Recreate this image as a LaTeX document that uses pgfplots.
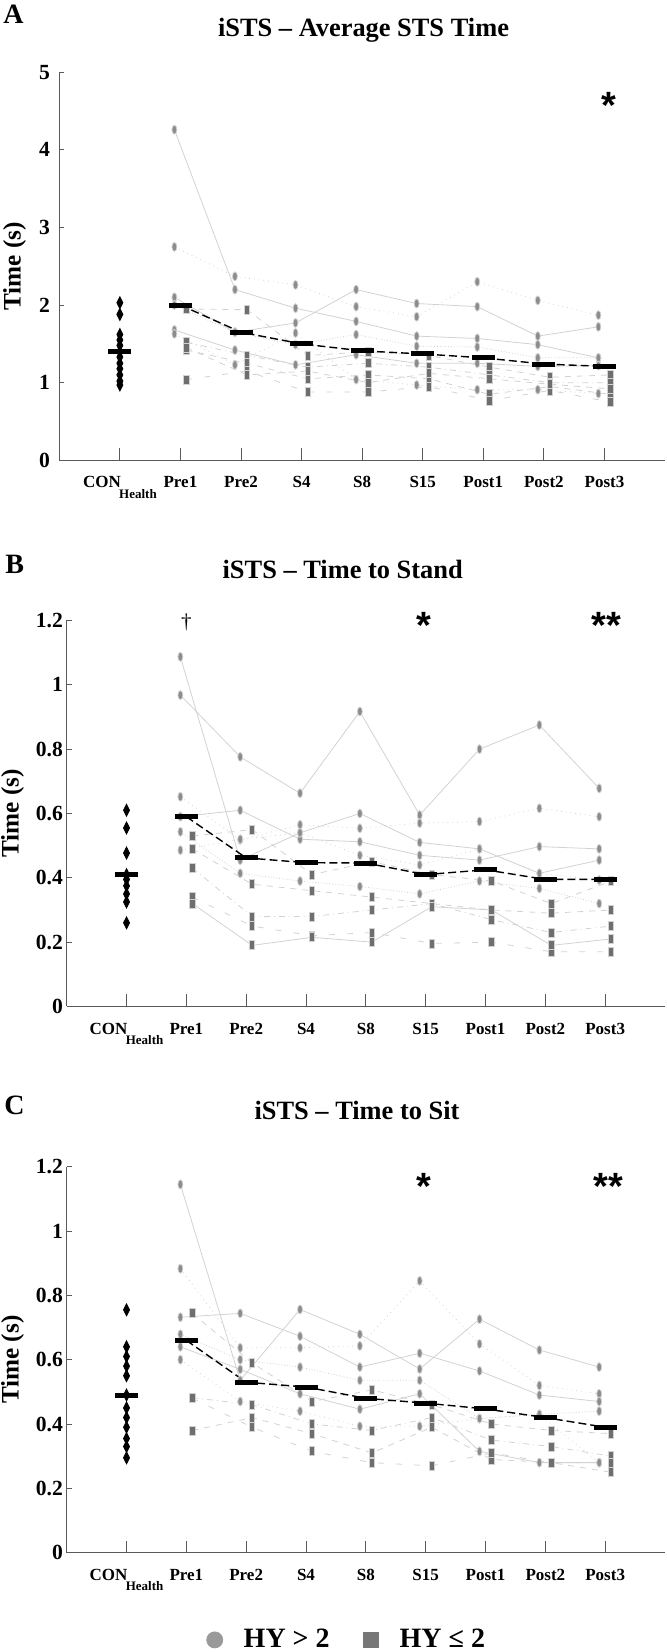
\documentclass[border=0pt]{standalone}
\usepackage{fontspec}
\setmainfont{Liberation Serif}
\setsansfont{Liberation Sans}
\usepackage{pgfplots}
\usepackage{pgfplotstable}
\pgfplotsset{compat=1.18}

\definecolor{lineG}{HTML}{D2D2D2}
\definecolor{circG}{HTML}{8C8C8C}
\definecolor{sqG}{HTML}{6E6E6E}
\definecolor{axG}{HTML}{5A5A5A}
\definecolor{legC}{HTML}{999999}
\definecolor{legS}{HTML}{777777}

% Panel A: average STS time (x: 1=Pre1 ... 8=Post3)
\pgfplotstableread{
x c1 c2 c3 c4 c5 c6 s1 s2 s3 s4 s5
1 4.26 2.75 2.10 2.00 1.68 1.63 1.95 1.52 1.42 1.04 1.45
2 2.20 2.37 1.65 1.65 1.42 1.23 1.94 1.35 1.25 1.15 1.10
3 1.96 2.26 1.77 1.49 1.23 1.64 1.35 1.20 1.05 0.88 1.15
4 1.79 1.98 2.20 1.62 1.36 1.04 1.40 1.25 1.10 0.88 1.00
5 1.60 1.85 2.02 1.47 1.25 0.97 1.35 1.20 1.05 0.95 1.12
6 1.57 2.30 1.98 1.46 1.25 0.91 1.20 1.10 0.85 0.77 1.05
7 1.49 2.06 1.60 1.32 1.21 0.91 1.07 1.00 0.95 0.90 0.98
8 1.32 1.87 1.72 1.32 1.22 0.86 1.10 1.00 0.85 0.75 0.92
}\tabA
\pgfplotstableread{
x m
1 2.00
2 1.65
3 1.50
4 1.41
5 1.37
6 1.32
7 1.24
8 1.21
}\medA
\pgfplotstableread{
v
2.03
1.88
1.62
1.55
1.48
1.40
1.33
1.25
1.18
1.10
1.02
0.97
}\conA

% Panel B: time to stand
\pgfplotstableread{
x c1 c2 c3 c4 c5 c6 s1 s2 s3 s4 s5
1 1.087 0.968 0.652 0.590 0.543 0.486 0.53 0.49 0.43 0.34 0.32
2 0.455 0.776 0.518 0.610 0.414 0.520 0.55 0.38 0.28 0.25 0.19
3 0.540 0.663 0.565 0.520 0.390 0.540 0.41 0.36 0.28 0.22 0.215
4 0.600 0.917 0.554 0.512 0.373 0.470 0.45 0.34 0.30 0.23 0.20
5 0.510 0.595 0.570 0.470 0.350 0.440 0.41 0.32 0.32 0.196 0.31
6 0.490 0.800 0.575 0.455 0.390 0.490 0.39 0.30 0.27 0.20 0.30
7 0.414 0.875 0.616 0.497 0.367 0.414 0.32 0.29 0.23 0.17 0.19
8 0.455 0.678 0.590 0.490 0.320 0.393 0.39 0.30 0.25 0.17 0.21
}\tabB
\pgfplotstableread{
x m
1 0.590
2 0.462
3 0.447
4 0.446
5 0.410
6 0.425
7 0.395
8 0.395
}\medB
\pgfplotstableread{
v
0.610
0.555
0.477
0.410
0.395
0.375
0.350
0.325
0.260
}\conB

% Panel C: time to sit
\pgfplotstableread{
x c1 c2 c3 c4 c5 c6 s1 s2 s3 s4
1 1.145 0.883 0.732 0.679 0.640 0.600 0.744 0.482 0.38 0.48
2 0.536 0.637 0.744 0.600 0.570 0.470 0.590 0.460 0.42 0.39
3 0.756 0.637 0.673 0.577 0.494 0.440 0.470 0.400 0.37 0.315
4 0.679 0.643 0.577 0.536 0.446 0.393 0.506 0.380 0.31 0.28
5 0.571 0.845 0.620 0.536 0.494 0.393 0.460 0.420 0.39 0.27
6 0.726 0.649 0.565 0.417 0.315 0.417 0.400 0.350 0.29 0.31
7 0.630 0.520 0.490 0.430 0.280 0.430 0.380 0.330 0.28 0.28
8 0.577 0.494 0.470 0.440 0.280 0.280 0.370 0.300 0.25 0.28
}\tabC
\pgfplotstableread{
x m
1 0.660
2 0.530
3 0.515
4 0.480
5 0.465
6 0.447
7 0.420
8 0.390
}\medC
\pgfplotstableread{
v
0.755
0.640
0.610
0.580
0.550
0.490
0.450
0.420
0.390
0.355
0.330
0.295
}\conC

\tikzset{sig/.style={font=\sffamily\bfseries\fontsize{19}{19}\selectfont, anchor=base, inner sep=0pt}}

\pgfplotsset{
  panel/.style={
    scale only axis, xmin=-1, xmax=9, ymin=0, clip=false,
    axis lines*=left, axis line style={-, draw=axG, line width=0.5pt},
    xtick={0,...,8},
    xticklabels={CON\kern-0.8pt\raisebox{-5.3pt}{\fontsize{6.5}{7}\selectfont Health},Pre1,Pre2,S4,S8,S15,Post1,Post2,Post3},
    tick align=inside, xtick pos=bottom, ytick pos=left,
    tick style={draw=axG, line width=0.5pt},
    xtick style={/pgfplots/major tick length=6pt},
    ytick style={/pgfplots/major tick length=2.5pt},
    xticklabel style={font=\bfseries\fontsize{8.5}{10}\selectfont, inner sep=0pt, yshift=-8pt},
    yticklabel style={font=\bfseries\fontsize{10.8}{12}\selectfont, inner sep=0pt},
    /pgf/number format/assume math mode=true,
    ylabel={Time (s)},
    ylabel style={font=\bfseries\fontsize{12.6}{14}\selectfont, anchor=center},
  },
  hi/.style={color=lineG, line width=0.4pt, mark=*, mark size=2.25pt,
    mark options={solid, fill=circG, draw=none, xscale=0.55}},
  lo/.style={color=lineG, line width=0.4pt, mark=square*, mark size=2.25pt,
    mark options={solid, fill=sqG, draw=none, xscale=0.6}},
  medline/.style={black, line width=0.7pt, dash pattern=on 4pt off 2pt},
  medbar/.style={only marks, mark=-, mark size=5.75pt, mark options={black, line width=2.5pt}},
  con/.style={only marks, mark=diamond*, mark size=3pt, mark options={black, xscale=0.67}},
}

\begin{document}
\begin{tikzpicture}
\useasboundingbox (0,0) rectangle (333pt,826pt);

% titles and panel letters
\node[anchor=base, font=\bfseries\fontsize{13.2}{16}\selectfont] at (181.75pt,807.6pt) {iSTS – Average STS Time};
\node[anchor=base, font=\bfseries\fontsize{13.2}{16}\selectfont] at (171.35pt,536.6pt) {iSTS – Time to Stand};
\node[anchor=base, font=\bfseries\fontsize{13.2}{16}\selectfont] at (178.5pt,266.1pt) {iSTS – Time to Sit};
\node[anchor=base west, inner sep=0pt, font=\bfseries\fontsize{14}{16}\selectfont] at (1.5pt,814.2pt) {A};
\node[anchor=base west, inner sep=0pt, font=\bfseries\fontsize{14}{16}\selectfont] at (2.5pt,539.2pt) {B};
\node[anchor=base west, inner sep=0pt, font=\bfseries\fontsize{14}{16}\selectfont] at (2pt,268.7pt) {C};

% ---------------- Panel A ----------------
\begin{axis}[panel, at={(29.65pt,595.85pt)}, anchor=south west,
  width=302.85pt, height=194pt, ymax=5, ytick={0,1,2,3,4,5},
  yticklabel style={xshift=-4.5pt},
  ylabel style={at={(axis description cs:-0.074,0.5)}}]
\addplot[hi] table[x expr=\thisrow{x}-0.1, y=c1] {\tabA};
\addplot[hi, dotted] table[x expr=\thisrow{x}-0.1, y=c2] {\tabA};
\addplot[hi] table[x expr=\thisrow{x}-0.1, y=c3] {\tabA};
\addplot[hi, densely dotted] table[x expr=\thisrow{x}-0.1, y=c4] {\tabA};
\addplot[hi] table[x expr=\thisrow{x}-0.1, y=c5] {\tabA};
\addplot[hi, dotted] table[x expr=\thisrow{x}-0.1, y=c6] {\tabA};
\addplot[lo, dashed] table[x expr=\thisrow{x}+0.1, y=s1] {\tabA};
\addplot[lo, dash dot] table[x expr=\thisrow{x}+0.1, y=s2] {\tabA};
\addplot[lo, dashed] table[x expr=\thisrow{x}+0.1, y=s3] {\tabA};
\addplot[lo, loosely dashed] table[x expr=\thisrow{x}+0.1, y=s4] {\tabA};
\addplot[lo, dashed] table[x expr=\thisrow{x}+0.1, y=s5] {\tabA};
\addplot[con] table[x expr=0, y=v] {\conA};
\addplot[medbar] coordinates {(0,1.40)};
\addplot[medline] table[x=x, y=m] {\medA};
\addplot[medbar] table[x=x, y=m] {\medA};
\node[sig] at (axis cs:8.08,4.40) {*};
\end{axis}

% ---------------- Panel B ----------------
\begin{axis}[panel, at={(33.35pt,322.75pt)}, anchor=south west,
  width=299.15pt, height=193pt, ymax=1.2, ytick={0,0.2,...,1.2},
  yticklabel style={xshift=-1.7pt},
  ylabel style={at={(axis description cs:-0.0903,0.5)}}]
\addplot[hi] table[x expr=\thisrow{x}-0.1, y=c1] {\tabB};
\addplot[hi] table[x expr=\thisrow{x}-0.1, y=c2] {\tabB};
\addplot[hi, dotted] table[x expr=\thisrow{x}-0.1, y=c3] {\tabB};
\addplot[hi] table[x expr=\thisrow{x}-0.1, y=c4] {\tabB};
\addplot[hi, densely dotted] table[x expr=\thisrow{x}-0.1, y=c5] {\tabB};
\addplot[hi, dotted] table[x expr=\thisrow{x}-0.1, y=c6] {\tabB};
\addplot[lo, dashed] table[x expr=\thisrow{x}+0.1, y=s1] {\tabB};
\addplot[lo, dashed] table[x expr=\thisrow{x}+0.1, y=s2] {\tabB};
\addplot[lo, dash dot] table[x expr=\thisrow{x}+0.1, y=s3] {\tabB};
\addplot[lo, loosely dashed] table[x expr=\thisrow{x}+0.1, y=s4] {\tabB};
\addplot[lo] table[x expr=\thisrow{x}+0.1, y=s5] {\tabB};
\addplot[con] table[x expr=0, y=v] {\conB};
\addplot[medbar] coordinates {(0,0.41)};
\addplot[medline] table[x=x, y=m] {\medB};
\addplot[medbar] table[x=x, y=m] {\medB};
\node[font=\fontsize{10.5}{10.5}\selectfont, inner sep=0pt] at (axis cs:1,1.195) {†};
\node[sig] at (axis cs:4.97,1.143) {*};
\node[sig] at (axis cs:8.02,1.143) {**};
\end{axis}

% ---------------- Panel C ----------------
\begin{axis}[panel, at={(33.35pt,49.65pt)}, anchor=south west,
  width=299.15pt, height=193pt, ymax=1.2, ytick={0,0.2,...,1.2},
  yticklabel style={xshift=-1.7pt},
  ylabel style={at={(axis description cs:-0.0903,0.5)}},
  legend style={at={(axis description cs:0.47,0)}, anchor=center, yshift=-43.6pt,
    draw=none, fill=none, font=\bfseries\fontsize{14}{16}\selectfont,
    /tikz/every odd column/.append style={column sep=8.5pt},
    /tikz/every even column/.append style={column sep=15pt}},
  legend columns=2, legend cell align=left]
\addlegendimage{only marks, mark=*, mark size=4pt, color=legC}
\addlegendentry{HY > 2}
\addlegendimage{only marks, mark=square*, mark size=3.75pt, color=legS}
\addlegendentry{HY ≤ 2}
\addplot[hi] table[x expr=\thisrow{x}-0.1, y=c1] {\tabC};
\addplot[hi, dotted] table[x expr=\thisrow{x}-0.1, y=c2] {\tabC};
\addplot[hi] table[x expr=\thisrow{x}-0.1, y=c3] {\tabC};
\addplot[hi, densely dotted] table[x expr=\thisrow{x}-0.1, y=c4] {\tabC};
\addplot[hi] table[x expr=\thisrow{x}-0.1, y=c5] {\tabC};
\addplot[hi, dotted] table[x expr=\thisrow{x}-0.1, y=c6] {\tabC};
\addplot[lo, dashed] table[x expr=\thisrow{x}+0.1, y=s1] {\tabC};
\addplot[lo, dash dot] table[x expr=\thisrow{x}+0.1, y=s2] {\tabC};
\addplot[lo, dashed] table[x expr=\thisrow{x}+0.1, y=s3] {\tabC};
\addplot[lo, loosely dashed] table[x expr=\thisrow{x}+0.1, y=s4] {\tabC};
\addplot[con] table[x expr=0, y=v] {\conC};
\addplot[medbar] coordinates {(0,0.49)};
\addplot[medline] table[x=x, y=m] {\medC};
\addplot[medbar] table[x=x, y=m] {\medC};
\node[sig] at (axis cs:4.97,1.098) {*};
\node[sig] at (axis cs:8.05,1.098) {**};
\end{axis}
\end{tikzpicture}
\end{document}
